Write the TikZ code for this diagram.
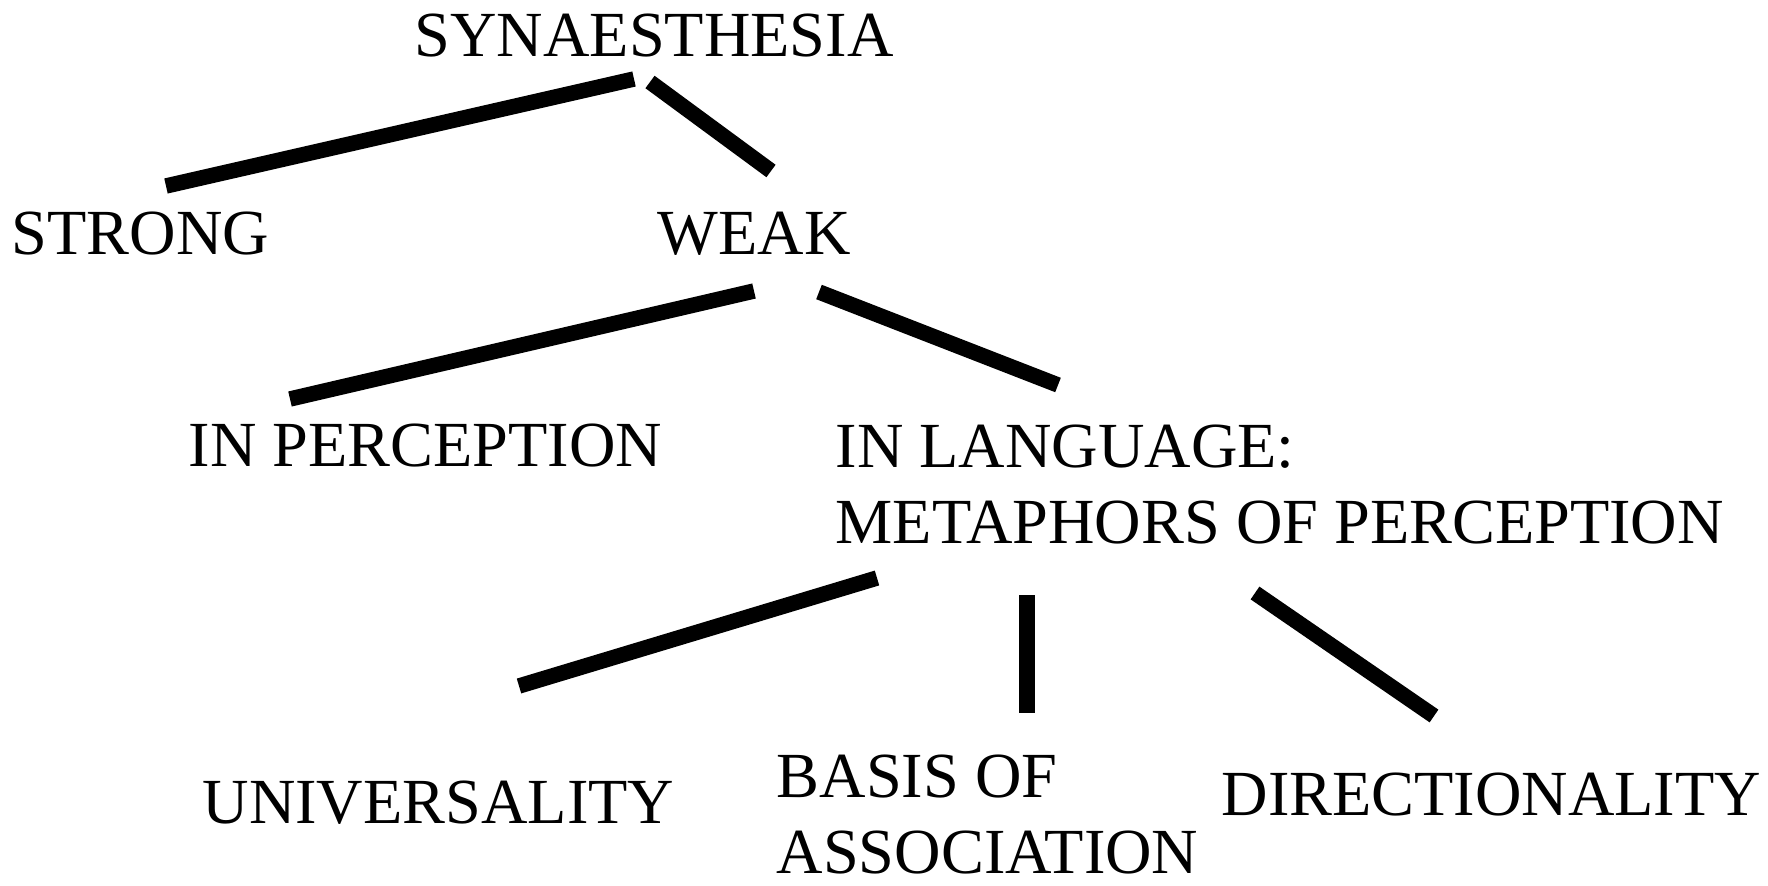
\documentclass[tikz,border=0pt]{standalone}
\usepackage{fontspec}
\setmainfont{Liberation Serif}
\begin{document}
\begin{tikzpicture}[x=0.1mm, y=-0.1mm,
        every node/.style={anchor=base west, inner sep=0pt, align=left,
            font=\fontsize{18.3}{21.5}\selectfont},
        branch/.style={line width=4.4pt}]
        \useasboundingbox (0,0) rectangle (1768,886);

        % Labels
        \node (syn) at (414,57) {SYNAESTHESIA};
        \node (strong) at (11,255) {STRONG};
        \node (weak) at (657,255) {WEAK};
        \node (perc) at (188,467) {IN PERCEPTION};
        \node (lang) at (835,543) {IN LANGUAGE:\\METAPHORS OF PERCEPTION};
        \node (univ) at (202,823) {UNIVERSALITY};
        \node (basis) at (776,873) {BASIS OF\\ASSOCIATION};
        \node (dir) at (1221,815) {DIRECTIONALITY};

        % Branch ends
        \coordinate (syn-l) at (634,79);   \coordinate (strong-t) at (166,186);
        \coordinate (syn-r) at (650,82);   \coordinate (weak-t) at (771,171);
        \coordinate (weak-l) at (754,291); \coordinate (perc-t) at (290,399);
        \coordinate (weak-r) at (819,292); \coordinate (lang-t) at (1058,385);
        \coordinate (lang-l) at (877,578); \coordinate (univ-t) at (519,686);
        \coordinate (lang-m) at (1027,595); \coordinate (basis-t) at (1027,713);
        \coordinate (lang-r) at (1255,593); \coordinate (dir-t) at (1434,716);

        % Branches
        \foreach \p/\q in {syn-l/strong-t, syn-r/weak-t, weak-l/perc-t, weak-r/lang-t,
            lang-l/univ-t, lang-m/basis-t, lang-r/dir-t}
            \draw[branch] (\p)--(\q);
    \end{tikzpicture}
\end{document}
